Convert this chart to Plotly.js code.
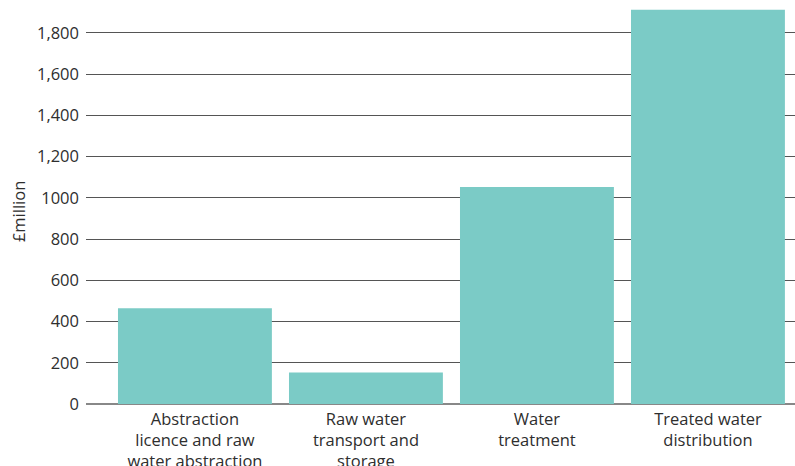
<!DOCTYPE html>
<html>
<head>
<meta charset="utf-8">
<script src="https://cdn.plot.ly/plotly-3.0.1.min.js"></script>
<style>html,body{margin:0;padding:0;background:#fff;}#chart{width:795px;height:466px;}</style>
</head>
<body>
<div id="chart"></div>
<script>
const categories = [
  "Abstraction<br>licence and raw<br>water abstraction",
  "Raw water<br>transport and<br>storage",
  "Water<br>treatment",
  "Treated water<br>distribution"
];
const values = [464, 153, 1053, 1913];
const yTickVals = [0, 200, 400, 600, 800, 1000, 1200, 1400, 1600, 1800];
const yTickText = ["0", "200", "400", "600", "800", "1000", "1,200", "1,400", "1,600", "1,800"];

const font = {family: "'Open Sans', 'Noto Sans', sans-serif", size: 16.5, color: "#2e2e2e"};

Plotly.newPlot("chart", [{
  type: "bar",
  x: [0, 1, 2, 3],
  y: values,
  marker: {color: "#7bcbc6"},
  hoverinfo: "none"
}], {
  width: 795,
  height: 466,
  margin: {l: 86, r: 0, t: 0, b: 62},
  paper_bgcolor: "#ffffff",
  plot_bgcolor: "#ffffff",
  bargap: 0.1,
  font: font,
  showlegend: false,
  xaxis: {
    range: [-0.637, 3.509],
    tickvals: [0, 1, 2, 3],
    ticktext: categories,
    showgrid: false,
    zeroline: false,
    showline: false,
    ticks: "",
    ticklabelstandoff: 3,
    tickfont: font,
    fixedrange: true
  },
  yaxis: {
    range: [0, 1960],
    tickvals: yTickVals,
    ticktext: yTickText,
    showgrid: true,
    gridcolor: "#555555",
    gridwidth: 1,
    zeroline: true,
    zerolinecolor: "#888888",
    zerolinewidth: 2,
    showline: false,
    ticks: "",
    ticklabelstandoff: 6,
    tickfont: font,
    fixedrange: true
  },
  annotations: [{
    text: "£million",
    textangle: -90,
    xref: "paper", yref: "paper",
    x: 0, y: 0.475,
    xanchor: "center", yanchor: "middle",
    xshift: -68,
    showarrow: false,
    font: font
  }]
}, {displayModeBar: false, staticPlot: true});
</script>
</body>
</html>
